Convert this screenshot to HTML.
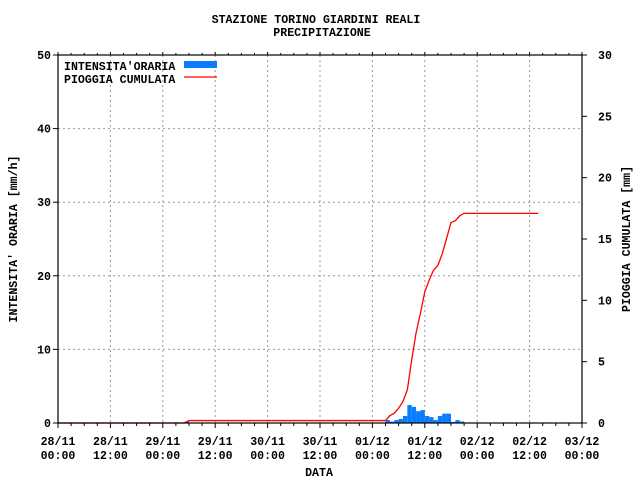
<!DOCTYPE html>
<html><head><meta charset="utf-8"><style>
html,body{margin:0;padding:0;background:#fff;}
svg text{font-family:"Liberation Mono",monospace;font-weight:bold;font-size:11.6px;fill:#000;}
</style></head><body>
<svg id="chart" width="640" height="480" xmlns="http://www.w3.org/2000/svg">
<rect width="640" height="480" fill="#fff"/>
<text x="316" y="23" text-anchor="middle">STAZIONE TORINO GIARDINI REALI</text>
<text x="322" y="36" text-anchor="middle">PRECIPITAZIONE</text>
<g id="grid"></g>
<g id="bars"></g>
<g id="line"></g>
<g id="axes"></g>
<text x="319" y="476" text-anchor="middle">DATA</text>
<text transform="translate(17,239) rotate(-90)" text-anchor="middle">INTENSITA' ORARIA [mm/h]</text>
<text transform="translate(630,239) rotate(-90)" text-anchor="middle">PIOGGIA CUMULATA [mm]</text>
<g>
<text x="64" y="70">INTENSITA'ORARIA</text>
<rect x="184" y="61" width="33" height="7" fill="#0a7cff"/>
<text x="64" y="83">PIOGGIA CUMULATA</text>
<line x1="184" y1="77" x2="217" y2="77" stroke="#f00" stroke-width="1.3"/>
</g>
</svg>
<script>
const xTickDays = ["28/11","28/11","29/11","29/11","30/11","30/11","01/12","01/12","02/12","02/12","03/12"];
const xTickTimes = ["00:00","12:00","00:00","12:00","00:00","12:00","00:00","12:00","00:00","12:00","00:00"];
const leftTicks = [0,10,20,30,40,50];
const rightTicks = [0,5,10,15,20,25,30];
const barHours = [29,75,76,77,78,79,80,81,82,83,84,85,86,87,88,89,90,91,92];
const barValues = [0.2,0.4,0.2,0.4,0.55,0.95,2.45,2.2,1.6,1.75,0.95,0.8,0.4,0.95,1.27,1.27,0.15,0.4,0.2];
const lineEndHour = 110;

const NS="http://www.w3.org/2000/svg";
const X0=58,X1=582,Y0=423,Y1=55,H=120;
const x=h=>X0+(X1-X0)*h/H;
const yL=v=>Y0-(Y0-Y1)*v/50;
const yR=v=>Y0-(Y0-Y1)*v/30;
function mk(tag,attrs,parent){const e=document.createElementNS(NS,tag);for(const k in attrs)e.setAttribute(k,attrs[k]);parent.appendChild(e);return e;}
const grid=document.getElementById('grid'),axes=document.getElementById('axes'),bars=document.getElementById('bars'),line=document.getElementById('line');
// grid
for(let i=1;i<xTickDays.length-1;i++){const gx=x(i*12);
 const g=mk('line',{x1:gx,y1:Y1,x2:gx,y2:Y0,stroke:'#999','stroke-dasharray':'2,3'},grid);
 
 }
for(let i=1;i<leftTicks.length-1;i++){const gy=yL(leftTicks[i]);
 const g=mk('line',{x1:X0,y1:gy,x2:X1,y2:gy,stroke:'#999','stroke-dasharray':'2,3'},grid);
 
 }
// bars
barHours.forEach((h,i)=>{const v=barValues[i];
 const r=mk('rect',{x:x(h),y:yL(v),width:x(h+1)-x(h),height:Y0-yL(v),fill:'#0a7cff'},bars);
 
 });
// cumulative line
let pts=[[x(0),yR(0)]];let cum=0;
barHours.forEach((h,i)=>{pts.push([x(h),yR(cum)]);cum+=barValues[i];pts.push([x(h+1),yR(cum)]);});
pts.push([x(lineEndHour),yR(cum)]);
const pl=mk('polyline',{points:pts.map(p=>p.join(',')).join(' '),fill:'none',stroke:'#f00','stroke-width':1.3},line);


// axes frame
mk('rect',{x:X0,y:Y1,width:X1-X0,height:Y0-Y1,fill:'none',stroke:'#000','stroke-width':1.2},axes);
for(let h=0;h<=H;h+=3){const tx=x(h),maj=h%12===0;
 mk('line',{x1:tx,y1:Y0,x2:tx,y2:Y0+(maj?5:3),stroke:'#000'},axes);
 mk('line',{x1:tx,y1:Y1,x2:tx,y2:Y1-(maj?3:2),stroke:'#000'},axes);}
xTickDays.forEach((d,i)=>{const tx=x(i*12);
 const t1=mk('text',{x:tx,y:445,'text-anchor':'middle'},axes);t1.textContent=d;
 
 
 const t2=mk('text',{x:tx,y:459,'text-anchor':'middle'},axes);t2.textContent=xTickTimes[i];
 
 });
leftTicks.forEach(v=>{const ty=yL(v);
 mk('line',{x1:X0-5,y1:ty,x2:X0,y2:ty,stroke:'#000'},axes);
 const t=mk('text',{x:51,y:ty+4,'text-anchor':'end'},axes);t.textContent=v;
 
 });
rightTicks.forEach(v=>{const ty=yR(v);
 mk('line',{x1:X1,y1:ty,x2:X1+5,y2:ty,stroke:'#000'},axes);
 const t=mk('text',{x:598,y:ty+4,'text-anchor':'start'},axes);t.textContent=v;
 
 });
</script>
</body></html>
